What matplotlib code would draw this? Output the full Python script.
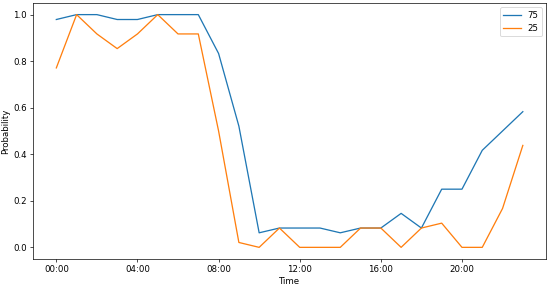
import matplotlib
matplotlib.use("Agg")
import matplotlib.pyplot as plt

hours = list(range(24))
tick_labels = ["00:00", "04:00", "08:00", "12:00", "16:00", "20:00"]
p75 = [0.979, 1.0, 1.0, 0.979, 0.979, 1.0, 1.0, 1.0, 0.833, 0.521, 0.0625, 0.083,
       0.083, 0.083, 0.0625, 0.083, 0.083, 0.146, 0.083, 0.25, 0.25, 0.417, 0.5, 0.583]
p25 = [0.771, 1.0, 0.917, 0.854, 0.917, 1.0, 0.917, 0.917, 0.5, 0.021, 0.0, 0.083,
       0.0, 0.0, 0.0, 0.083, 0.083, 0.0, 0.083, 0.104, 0.0, 0.0, 0.167, 0.438]

# original figure rendered at a lower dpi
DPI = 62
fig = plt.figure(figsize=(550 / DPI, 287 / DPI), dpi=DPI)
ax = fig.add_axes([0.06, 0.0976, 0.933, 0.892])
ax.plot(hours, p75, label="75")
ax.plot(hours, p25, label="25")
ax.set_xticks(hours[::4])
ax.set_xticklabels(tick_labels)
ax.set_xlabel("Time")
ax.set_ylabel("Probability")
ax.legend(loc="upper right")
fig.savefig("out.png", dpi=DPI)
